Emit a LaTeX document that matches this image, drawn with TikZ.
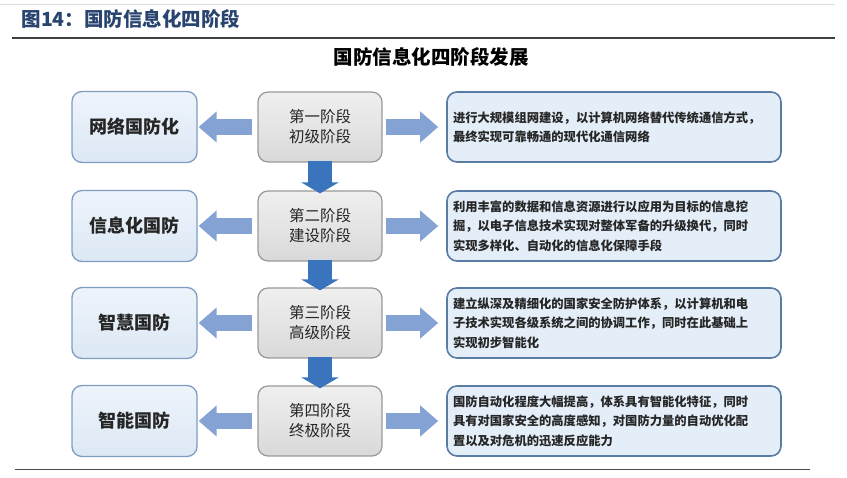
\documentclass[tikz,border=0pt]{standalone}
\usepackage{fontspec}
\setmainfont{Noto Sans CJK SC}
\usetikzlibrary{arrows.meta,shadings}
\definecolor{hdr}{HTML}{2A4470}
\definecolor{lfill}{HTML}{DCE8F5}
\definecolor{lfilltop}{HTML}{EEF4FB}
\definecolor{ldraw}{HTML}{7F9CC2}
\definecolor{cdraw}{HTML}{999999}
\definecolor{rfill}{HTML}{E4EEF8}
\definecolor{rdraw}{HTML}{5A7CA4}
\definecolor{sidearr}{HTML}{84A3D4}
\definecolor{downarr}{HTML}{3A74BC}
\definecolor{txt}{HTML}{262626}
\begin{document}
\begin{tikzpicture}[x=1pt,y=-1pt,
  lbox/.style={draw=ldraw,line width=1.3pt,rounded corners=10pt,top color=lfilltop,bottom color=lfill,
    minimum width=125pt,minimum height=71pt,inner sep=0pt,font=\fontsize{18}{22}\selectfont\bfseries,text=txt},
  cbox/.style={draw=cdraw,line width=1.2pt,rounded corners=10pt,top color=gray!12,bottom color=gray!30,
    minimum width=124pt,minimum height=70pt,inner sep=0pt,align=center,
    font=\fontsize{15.5}{20}\selectfont,text=txt},
  rbox/.style={draw=rdraw,line width=1.6pt,rounded corners=10pt,fill=rfill,
    minimum width=334pt,minimum height=70pt,inner sep=0pt,align=left,text width=322pt,
    font=\fontsize{12.3}{19.5}\selectfont\bfseries,text=txt},
  sidearrow/.style={draw=sidearr,line width=16pt,-{Triangle[length=18pt,width=30pt]}},
  downarrow/.style={draw=downarr,line width=24pt,-{Triangle[length=11pt,width=37pt]}}
]
\useasboundingbox (0,0) rectangle (847,478);
\draw[gray!25,line width=0.8pt] (0,4) -- (835,4);
\node[anchor=west,text=hdr,font=\fontsize{19.5}{22}\selectfont\bfseries] (hd) at (18,19) {图14：国防信息化四阶段};
\draw[black!75,line width=2pt] (12,38) -- (835,38);
\node[font=\fontsize{19.5}{22}\selectfont\bfseries,text=black] (title) at (431,57) {国防信息化四阶段发展};
\draw[black!70,line width=1pt] (15,470) -- (810,470);

\foreach \i/\y/\l/\ca/\cb in {1/127/网络国防化/第一阶段/初级阶段, 2/226/信息化国防/第二阶段/建设阶段,
   3/323/智慧国防/第三阶段/高级阶段, 4/421/智能国防/第四阶段/终极阶段}{
  \node[lbox] (l\i) at (134.5,\y) {\l};
  \node[cbox] (c\i) at (320,\y) {\ca\\\cb};
}
\node[rbox] (r1) at (614,127) {进行大规模组网建设，以计算机网络替代传统通信方式，\\最终实现可靠畅通的现代化通信网络};
\node[rbox] (r2) at (614,226) {利用丰富的数据和信息资源进行以应用为目标的信息挖\\掘，以电子信息技术实现对整体军备的升级换代，同时\\实现多样化、自动化的信息化保障手段};
\node[rbox] (r3) at (614,323) {建立纵深及精细化的国家安全防护体系，以计算机和电\\子技术实现各级系统之间的协调工作，同时在此基础上\\实现初步智能化};
\node[rbox] (r4) at (614,421) {国防自动化程度大幅提高，体系具有智能化特征，同时\\具有对国家安全的高度感知，对国防力量的自动优化配\\置以及对危机的迅速反应能力};

\foreach \i in {1,2,3,4}{
  \draw[sidearrow] ([xshift=-5pt]c\i.west) -- ([xshift=1pt]l\i.east);
  \draw[sidearrow] ([xshift=3pt]c\i.east) -- ([xshift=-8pt]r\i.west);
}
\foreach \i/\j in {1/2,2/3,3/4}{
  \draw[downarrow] ([yshift=2pt]c\i.south) -- ([yshift=-3pt]c\j.north);
}
\end{tikzpicture}
\end{document}
